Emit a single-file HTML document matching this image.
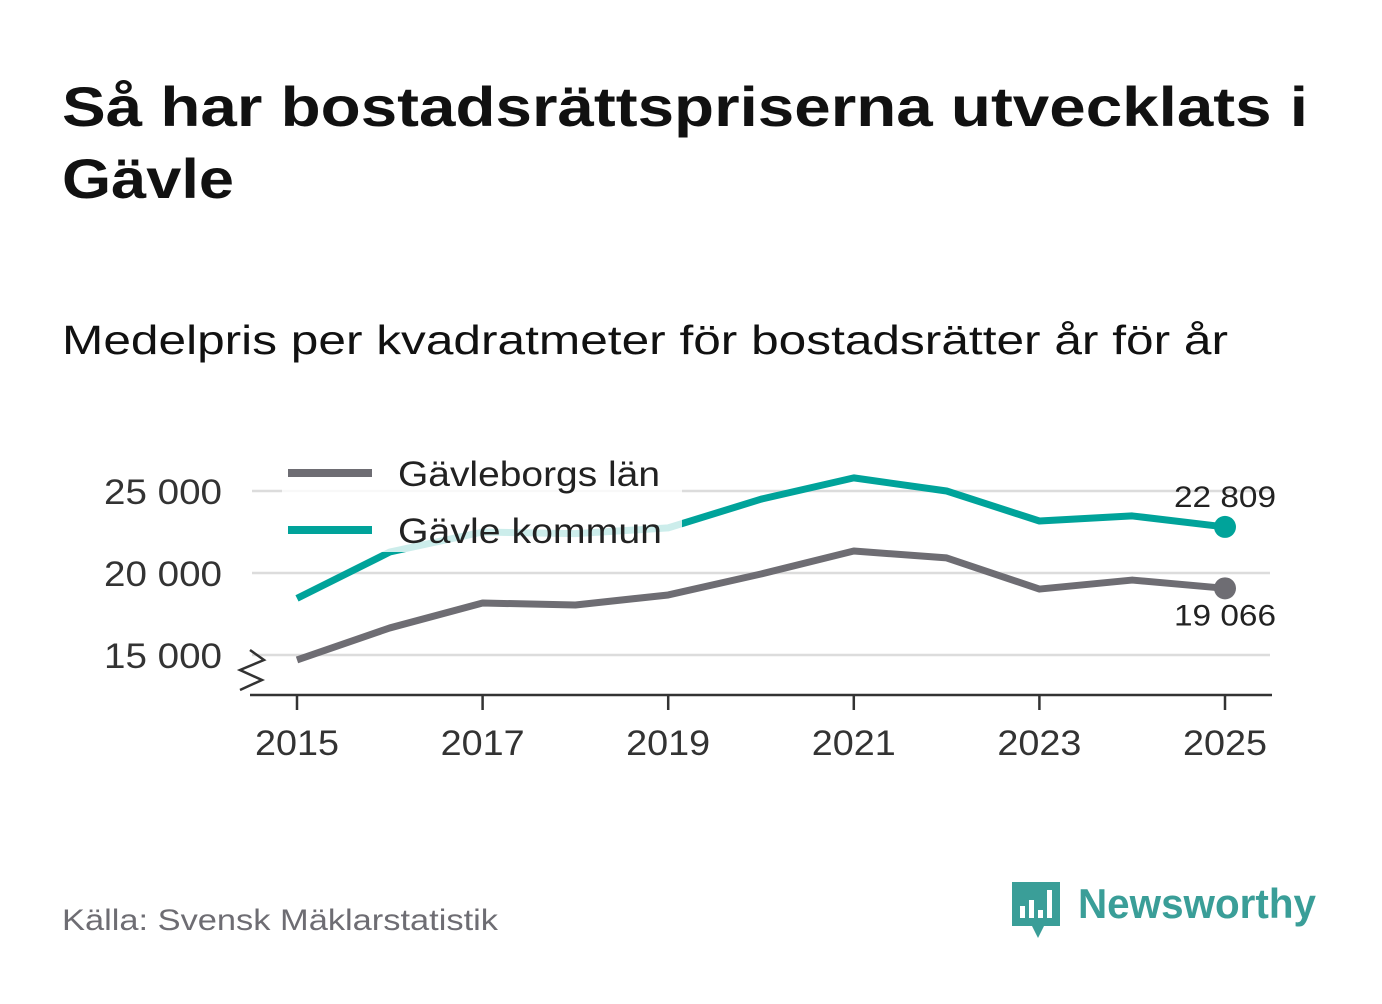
<!DOCTYPE html>
<html><head><meta charset="utf-8">
<style>
body{margin:0;background:#fff;width:1382px;height:999px;overflow:hidden;font-family:"Liberation Sans",sans-serif;}
</style></head>
<body>
<svg width="1382" height="999" xmlns="http://www.w3.org/2000/svg" font-family="Liberation Sans, sans-serif">
<text x="62" y="126" font-size="56" font-weight="bold" fill="#111" textLength="1246" lengthAdjust="spacingAndGlyphs">Så har bostadsrättspriserna utvecklats i</text>
<text x="62" y="198" font-size="56" font-weight="bold" fill="#111" textLength="172" lengthAdjust="spacingAndGlyphs">Gävle</text>
<text x="62" y="354" font-size="41" fill="#111" textLength="1166" lengthAdjust="spacingAndGlyphs">Medelpris per kvadratmeter för bostadsrätter år för år</text>
<g id="grid"></g>
<g id="yticks"></g>
<g id="xaxis"></g>
<g id="series"></g>
<path d="M250 650 L264 660 L240 670 L262 680 L240 690" fill="none" stroke="#333" stroke-width="2.5"/>
<rect x="282" y="452" width="400" height="100" fill="#fff" opacity="0.8"/>
<g><line x1="288" y1="473" x2="372" y2="473" stroke="#6e6d73" stroke-width="8"/><text x="398" y="486" font-size="35" fill="#222" textLength="262" lengthAdjust="spacingAndGlyphs">Gävleborgs län</text></g>
<g><line x1="288" y1="530" x2="372" y2="530" stroke="#00a39a" stroke-width="8"/><text x="398" y="543" font-size="35" fill="#222" textLength="264" lengthAdjust="spacingAndGlyphs">Gävle kommun</text></g>
<text x="62" y="930" font-size="30" fill="#6e6d73" textLength="436" lengthAdjust="spacingAndGlyphs">Källa: Svensk Mäklarstatistik</text>
<g>
<path d="M1012 882 h48 v44 h-16 l-6 12 l-6 -12 h-20 z" fill="#3a9e98"/>
<rect x="1020" y="906" width="5" height="12" fill="#fff"/><rect x="1029" y="900" width="5" height="18" fill="#fff"/><rect x="1038" y="910" width="5" height="8" fill="#fff"/><rect x="1047" y="890" width="5" height="28" fill="#fff"/>
<text x="1078" y="918" font-size="42" font-weight="bold" fill="#3a9e98" textLength="238" lengthAdjust="spacingAndGlyphs">Newsworthy</text>
</g>
<script>
const years=[2015,2016,2017,2018,2019,2020,2021,2022,2023,2024,2025];
const kommun=[18450,21280,22500,22400,22750,24500,25800,25000,23170,23480,22809];
const lan=[14700,16650,18170,18050,18660,19940,21340,20920,19020,19570,19066];
const yTicks=[15000,20000,25000];
const yLabels=["15 000","20 000","25 000"];
const xTicks=[2015,2017,2019,2021,2023,2025];
const lastLabels=["22 809","19 066"];
const ns="http://www.w3.org/2000/svg";
const X=v=>297+(v-2015)*92.8;
const Y=v=>573-(v-20000)/5000*82;
function mk(t,a,p){const e=document.createElementNS(ns,t);for(const k in a)e.setAttribute(k,a[k]);p.appendChild(e);return e;}
const g=document.getElementById('grid'),yt=document.getElementById('yticks'),xa=document.getElementById('xaxis'),s=document.getElementById('series');
yTicks.forEach((v,i)=>{
 const l=mk('line',{x1:252,x2:1270,y1:Y(v),y2:Y(v),stroke:'#dcdcdc','stroke-width':2.5},g);
 
 
 const t=mk('text',{x:222,y:Y(v)+13,'font-size':35,fill:'#333','text-anchor':'end',textLength:118,lengthAdjust:'spacingAndGlyphs'},yt);t.textContent=yLabels[i];
 
 
});
mk('line',{x1:250,x2:1272,y1:695,y2:695,stroke:'#333','stroke-width':2.5},xa);
xTicks.forEach(v=>{
 mk('line',{x1:X(v),x2:X(v),y1:695,y2:710,stroke:'#333','stroke-width':2.5},xa);
 const t=mk('text',{x:X(v),y:755,'font-size':35,fill:'#333','text-anchor':'middle',textLength:84,lengthAdjust:'spacingAndGlyphs'},xa);t.textContent=v;
 
 
});
[[lan,'#6e6d73','line-gavleborgs-lan'],[kommun,'#00a39a','line-gavle-kommun']].forEach(([d,c,n],k)=>{
 const p=mk('polyline',{points:d.map((v,i)=>X(years[i])+','+Y(v)).join(' '),fill:'none',stroke:c,'stroke-width':7,'stroke-linejoin':'round'},s);
 
 
 const last=d.length-1;
 const cc=mk('circle',{cx:X(years[last]),cy:Y(d[last]),r:11,fill:c},s);
 
 
 const t=mk('text',{x:X(years[last]),y:k?Y(d[last])-20:Y(d[last])+37,'font-size':30,fill:'#222','text-anchor':'middle',textLength:102,lengthAdjust:'spacingAndGlyphs'},s);
 t.textContent=lastLabels[k?0:1];
 
 
});
</script>
</svg>
</body></html>
